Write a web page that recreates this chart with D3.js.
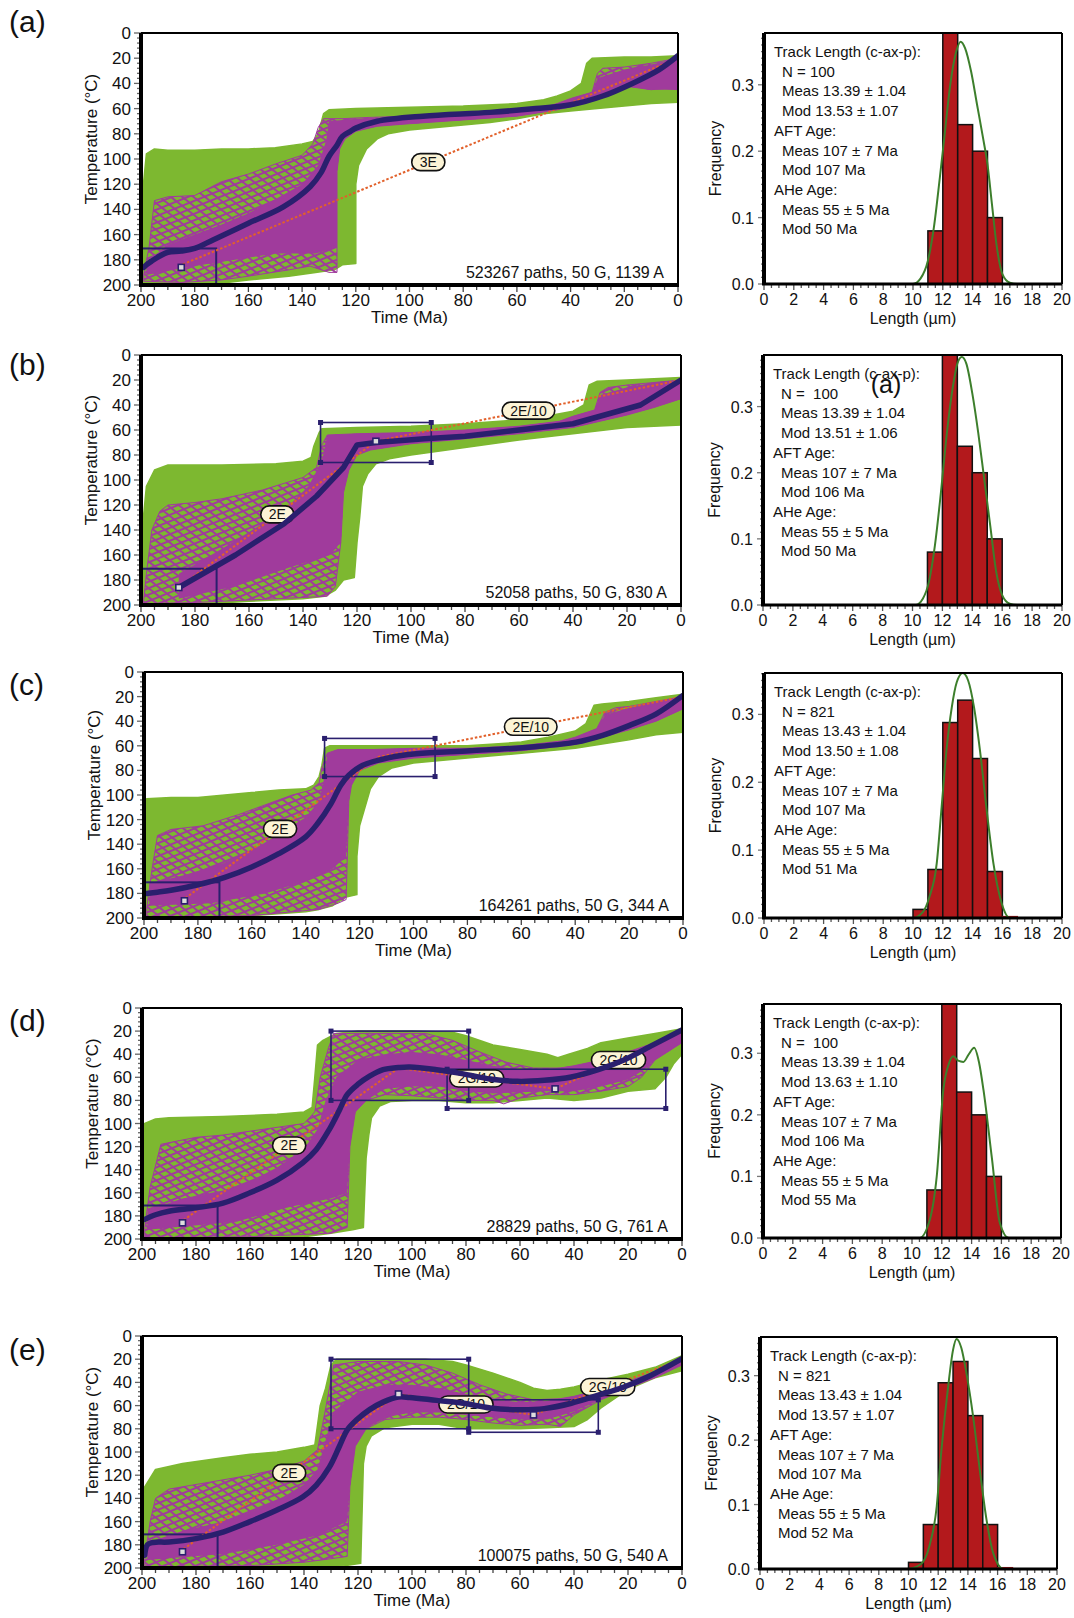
<!DOCTYPE html>
<html>
<head>
<meta charset="utf-8">
<script src="https://cdn.jsdelivr.net/npm/d3@7"></script>
<style>
  html, body { margin: 0; padding: 0; background: #fff; }
  svg { display: block; font-family: "Liberation Sans", Arial, sans-serif; }
</style>
</head>
<body>
<svg id="fig" width="1074" height="1618"></svg>
<script>
// ---------- shared axis values ----------
const panelIds = ["(a)", "(b)", "(c)", "(d)", "(e)"];
const timeTicks = [200, 180, 160, 140, 120, 100, 80, 60, 40, 20, 0];
const tempTicks = [0, 20, 40, 60, 80, 100, 120, 140, 160, 180, 200];
const lengthTicks = [0, 2, 4, 6, 8, 10, 12, 14, 16, 18, 20];
const freqTicks = [0.0, 0.1, 0.2, 0.3];
const lengthBinStarts = [10, 11, 12, 13, 14, 15, 16];

// ---------- time–temperature histories: [time Ma, temperature °C] ----------
// green = acceptable-fit envelope, magenta = good-fit envelope, core = densest good fits
// (a)
const greenA = [[200,200],[200,140],[198,96],[195,92],[190,93],[180,93],[170,92],[160,92],[150,91],[140,88],[136,86],[134,80],[132,64],[130,61],[120,60],[100,59],[80,58],[60,56],[50,53],[45,50],[40,46],[36,40],[34,24],[32,20],[20,19],[10,19],[0,18],
  [0,55],[10,56],[20,58],[30,60],[40,62],[50,64],[60,68],[70,71],[80,73],[90,75],[100,77],[108,80],[112,84],[116,92],[119,105],[120,120],[120,183],[125,184],[128,188],[135,190],[145,193],[160,196],[172,199],[180,200]];
const magentaA = [[199,192],[197,170],[195,133],[190,130],[180,129],[170,118],[160,112],[150,104],[140,97],[136,88],[134,75],[132,68],[125,68],[115,67],[100,66],[80,63],[60,61],[50,59],[45,56],[40,52],[32,47],[30,32],[28,28],[20,27],[10,24],[0,20],
  [0,45],[5,44],[10,45],[20,42],[28,48],[35,56],[45,61],[60,66],[80,69],[100,72],[112,74],[120,78],[124,84],[126,92],[127,110],[127,190],[130,190],[137,185],[145,188],[160,193],[170,196],[185,198],[199,197]];
const coreA = [[198,182],[190,168],[180,160],[170,152],[160,143],[150,132],[140,120],[134,105],[131,85],[130,70],[120,68],[100,66],[80,63],[60,61],[50,59],[45,56],[40,52],[32,47],[30,36],[20,29],[10,25],[0,20],
  [0,45],[10,45],[20,42],[28,48],[35,56],[45,61],[60,66],[80,69],[100,72],[112,74],[120,78],[124,84],[126,92],[127,110],[127,170],[135,175],[150,175],[165,180],[180,185],[198,192]];
const bestFitA = [[199,186],[198,184],[196,181],[193,177],[190,174],[185,173],[180,171],[173,164],[160,151],[147,138],[137,122],[133,111],[130,98],[127,89],[125,82],[122,78],[120,75.5],[112,70],[95,66],[70,63],[53,60],[40,57],[28,50],[17,40],[7,29],[0,18]];
const constraintsA = [[172,200,171,200]];
const dashedA = [[186,185],[0,20]];
const dashedLabelsA = ["3E"];
const markersA = [[185,186]];
const noteA = "523267 paths, 50 G, 1139 A";

// (b)
const greenB = [[200,200],[200,150],[198,105],[195,92],[190,88],[170,88],[150,87],[140,85],[137,82],[136,73],[134,62],[133,59],[120,58],[100,57],[80,55],[60,52],[50,49],[40,45],[36,40],[34,24],[31,21],[20,20],[10,19],[0,18],
  [0,56],[10,57],[20,58],[40,63],[60,68],[80,74],[100,80],[108,83],[113,87],[116,95],[118,105],[119,130],[120,150],[121,178],[125,180],[128,188],[132,193],[140,195],[160,197],[175,199],[185,200]];
const magentaB = [[199,196],[198,175],[196,140],[193,125],[190,120],[180,118],[170,115],[155,108],[140,98],[135,90],[133,72],[131,64],[120,63],[100,62],[80,60],[60,57],[45,53],[40,49],[32,44],[30,30],[27,26],[20,24],[10,22],[0,20],
  [0,35],[10,42],[20,48],[30,53],[40,58],[60,63],[80,67],[100,71],[115,76],[120,80],[123,92],[125,110],[126,150],[128,185],[131,193],[140,194],[160,196],[180,198],[199,199]];
const coreB = [[186,175],[170,155],[155,135],[145,120],[138,105],[133,85],[131,64],[120,63],[100,62],[80,60],[60,57],[45,53],[40,49],[32,44],[30,32],[20,26],[10,22],[0,20],
  [0,35],[10,42],[20,48],[30,53],[40,58],[60,63],[80,67],[100,71],[115,76],[120,80],[123,92],[125,110],[126,150],[130,160],[145,170],[165,185],[186,195]];
const bestFitB = [[186,186],[165,160],[147,135],[135,113],[125,90],[120,72],[113,70],[95,67],[80,65],[60,60],[40,55],[15,40],[0,20]];
const constraintsB = [[172,200,171,200],[92.5,133.5,54,86]];
const dashedB = [[186,186],[113,69],[0,20]];
const dashedLabelsB = ["2E", "2E/10"];
const markersB = [[186,186],[113,69]];
const noteB = "52058 paths, 50 G, 830 A";

// (c)
const greenC = [[200,200],[200,150],[199,103],[190,102],[180,102],[170,100],[160,98],[150,96],[140,95],[137,92],[135,85],[134,76],[133,62],[131,60],[120,60],[100,60],[80,60],[60,57],[50,53],[40,48],[36,42],[33,27],[30,26],[20,24],[10,21],[0,18],
  [0,49],[10,51],[20,55],[40,62],[60,66],[80,70],[100,74],[108,78],[113,85],[116,95],[118,110],[120,125],[121,150],[121,181],[125,183],[130,190],[135,193],[140,195],[160,198],[172,200]];
const magentaC = [[199,192],[197,160],[195,133],[190,128],[178,125],[165,116],[155,108],[145,100],[138,96],[135,90],[134,78],[132,66],[128,63],[115,63],[100,62],[80,62],[60,60],[45,56],[40,53],[32,46],[29,33],[25,29],[20,28],[10,24],[0,20],
  [0,30],[10,40],[20,47],[30,53],[40,59],[60,64],[80,67],[100,70],[113,74],[120,80],[123,92],[124,105],[125,185],[128,188],[135,193],[145,195],[160,198],[180,199],[199,199]];
const coreC = [[198,172],[185,165],[170,155],[160,145],[150,132],[140,118],[135,105],[133,85],[132,66],[128,63],[115,63],[100,62],[80,62],[60,60],[45,56],[40,53],[32,46],[29,35],[20,29],[10,24],[0,20],
  [0,30],[10,40],[20,47],[30,53],[40,59],[60,64],[80,67],[100,70],[113,74],[120,80],[123,92],[124,105],[125,150],[130,160],[140,170],[155,180],[175,188],[198,190]];
const bestFitC = [[199,180],[195,179],[190,177.5],[180,173],[170,167],[160,158.5],[150,147.7],[140,134],[135.5,123],[130.6,107],[127,92],[124,84],[119,76],[109,69.6],[99,66.4],[79,64],[59.5,61.5],[39.7,57],[29.8,51.5],[19.8,43.4],[9.9,34],[0,19]];
const constraintsC = [[172,200,171,200],[92,133,54,85]];
const dashedC = [[186,186],[113,69],[0,20]];
const dashedLabelsC = ["2E", "2E/10"];
const markersC = [[185,186]];
const noteC = "164261 paths, 50 G, 344 A";

// (d)
const greenD = [[200,200],[200,140],[199,100],[195,96],[190,95],[170,94],[150,92],[140,90],[137,86],[136,60],[135,32],[133,28],[128,22],[120,20],[100,20],[85,21],[80,24],[70,32],[60,36],[50,40],[46,43],[42,40],[35,35],[30,30],[20,26],[10,22],[0,18],
  [0,40],[3,48],[6,60],[10,70],[20,72],[30,78],[40,80],[50,78],[60,80],[70,82],[80,82],[90,80],[100,80],[108,81],[112,85],[115,95],[116,110],[117,130],[118,190],[122,192],[130,195],[140,198],[150,199],[160,200]];
const magentaD = [[199,190],[197,155],[193,118],[180,112],[170,110],[155,105],[140,100],[136,90],[134,60],[131,35],[129,22],[110,22],[95,22],[85,28],[75,38],[65,47],[55,52],[45,52],[40,50],[30,45],[20,38],[10,30],[0,20],
  [0,30],[10,45],[15,60],[20,68],[30,72],[40,75],[50,75],[60,78],[66,83],[70,80],[80,80],[90,78],[100,76],[110,75],[117,80],[121,90],[123,120],[124,190],[130,195],[140,196],[160,198],[199,199]];
const coreD = [[198,175],[185,165],[170,158],[160,150],[150,138],[140,122],[135,105],[132,80],[128,60],[120,45],[110,40],[100,38],[90,40],[80,45],[70,50],[60,53],[50,53],[40,50],[30,45],[20,38],[10,30],[0,20],
  [0,30],[10,45],[15,55],[20,62],[30,68],[40,72],[50,72],[60,73],[70,74],[80,72],[90,68],[100,68],[110,70],[117,80],[121,90],[123,120],[124,160],[130,165],[145,172],[165,185],[198,192]];
const bestFitD = [[199,183],[195,179],[190,176],[180,173],[170,169],[160,160],[150,149],[140.5,134],[135.5,122.7],[130.6,105],[127,89],[124,75],[120,66],[115.7,59],[110.7,53.4],[105,51.5],[100.8,51],[90.9,53.4],[81,57],[71,61.5],[61,63.5],[51,62.6],[41,59.7],[31,53.4],[21.5,45],[11.6,33],[0,19]];
const constraintsD = [[172,200,171,200],[79,130,20,80],[6,87,53,87]];
const dashedD = [[186,186],[105,52],[47,70],[0,20]];
const dashedLabelsD = ["2E", "2G/10", "2G/10"];
const markersD = [[185,186],[47,70]];
const noteD = "28829 paths, 50 G, 761 A";

// (e)
const greenE = [[200,200],[200,160],[199,130],[195,115],[185,110],[170,105],[160,102],[150,100],[140,96],[136,94],[134,60],[132,45],[130,25],[128,20],[110,20],[95,20],[85,22],[80,25],[70,32],[60,40],[55,45],[50,47],[45,46],[40,44],[30,38],[20,33],[10,27],[0,17],
  [0,30],[10,36],[20,46],[30,62],[35,72],[40,78],[50,79],[60,80],[70,80],[80,80],[90,76],[100,76],[110,79],[115,86],[117,95],[118,110],[119,196],[125,198],[135,199],[160,200]];
const magentaE = [[199,192],[197,160],[195,140],[190,132],[175,126],[160,120],[150,115],[140,108],[135,98],[133,75],[131,50],[129,25],[120,22],[105,22],[95,25],[85,32],[75,42],[65,50],[55,55],[45,54],[40,52],[30,46],[20,39],[10,31],[0,19],
  [0,25],[10,36],[20,45],[30,55],[40,68],[45,78],[50,76],[60,77],[70,75],[80,72],[90,70],[100,70],[110,72],[117,80],[121,95],[123,130],[124,190],[130,192],[140,195],[160,198],[199,199]];
const coreE = [[198,178],[185,168],[170,160],[160,152],[150,142],[140,128],[135,115],[132,90],[129,65],[120,48],[110,42],[100,42],[90,45],[80,50],[70,55],[60,57],[50,56],[40,52],[30,46],[20,39],[10,31],[0,19],
  [0,25],[10,36],[20,45],[30,55],[40,65],[50,72],[60,72],[70,70],[80,68],[90,66],[100,66],[110,70],[117,80],[121,95],[123,130],[124,160],[135,172],[150,180],[170,188],[198,193]];
const bestFitE = [[199,189],[198,180],[196,178],[190,177.6],[180,174.7],[170,169],[160,160],[150,150],[140.5,138.8],[135.5,128.7],[130.6,113],[127,95.7],[124,81],[120.7,72.7],[115.7,63.5],[110.7,57],[105,52.6],[100.8,53],[90.9,55.5],[81,58],[71,62],[61,63.5],[51,62.6],[41,58],[31,51],[21.5,44],[11.6,34],[0,19.5]];
const constraintsE = [[172,200,171,200],[79,130,20,80],[31,79,55,83]];
const dashedE = [[186,186],[105,50],[55,68],[0,20]];
const dashedLabelsE = ["2E", "2G/10", "2G/10"];
const markersE = [[185,186],[105,50],[55,68]];
const noteE = "100075 paths, 50 G, 540 A";

// ---------- track-length histograms ----------
// bar frequencies for bins 10–11 ... 16–17 µm
const freqA = [0.0, 0.08, 0.38, 0.24, 0.20, 0.10, 0.0];
const freqB = [0.0, 0.08, 0.38, 0.24, 0.20, 0.10, 0.0];
const freqC = [0.0127, 0.0715, 0.288, 0.321, 0.235, 0.0685, 0.002];
const freqD = [0.0, 0.078, 0.39, 0.237, 0.20, 0.10, 0.0];
const freqE = [0.0103, 0.069, 0.289, 0.322, 0.238, 0.069, 0.002];

// predicted length distributions: [length µm, frequency]
const modelA = [[0,0],[10,0],[10.5,0.008],[11,0.035],[11.4,0.085],[11.8,0.16],[12.1,0.22],[12.5,0.30],[12.9,0.35],[13.2,0.365],[13.5,0.355],[13.9,0.32],[14.3,0.27],[14.7,0.22],[15.0,0.18],[15.3,0.12],[15.6,0.06],[16.0,0.015],[16.5,0.002],[17,0],[20,0]];
const modelB = [[0,0],[10.2,0],[10.7,0.01],[11.1,0.035],[11.5,0.09],[11.9,0.17],[12.3,0.26],[12.7,0.33],[13.0,0.365],[13.3,0.375],[13.6,0.365],[14.0,0.32],[14.4,0.26],[14.8,0.19],[15.2,0.12],[15.6,0.05],[16.0,0.015],[16.5,0.002],[17,0],[20,0]];
const modelC = [[0,0],[10,0],[10.67,0.009],[11.1,0.031],[11.59,0.08],[11.9,0.158],[12.26,0.25],[12.6,0.31],[12.93,0.347],[13.34,0.361],[13.7,0.35],[14.1,0.31],[14.5,0.246],[14.95,0.158],[15.4,0.08],[15.96,0.021],[16.5,0],[20,0]];
const modelD = [[0,0],[10.5,0],[11.2,0.03],[11.66,0.10],[12.1,0.24],[12.5,0.285],[12.78,0.295],[13.1,0.288],[13.45,0.286],[13.8,0.298],[14.17,0.309],[14.5,0.285],[14.8,0.24],[15.36,0.13],[15.9,0.024],[16.5,0],[20,0]];
const modelE = [[0,0],[9.87,0],[10.8,0.007],[11.4,0.035],[11.9,0.097],[12.2,0.18],[12.67,0.283],[13.0,0.34],[13.23,0.357],[13.56,0.343],[13.9,0.304],[14.35,0.237],[14.8,0.154],[15.25,0.077],[15.7,0.025],[16.4,0],[20,0]];

const statsA = ["Track Length (c-ax-p):", "N = 100", "Meas 13.39 \u00b1 1.04", "Mod 13.53 \u00b1 1.07", "AFT Age:", "Meas 107 \u00b1 7 Ma", "Mod 107 Ma", "AHe Age:", "Meas 55 \u00b1 5 Ma", "Mod 50 Ma"];
const statsB = ["Track Length (c-ax-p):", "N =  100", "Meas 13.39 \u00b1 1.04", "Mod 13.51 \u00b1 1.06", "AFT Age:", "Meas 107 \u00b1 7 Ma", "Mod 106 Ma", "AHe Age:", "Meas 55 \u00b1 5 Ma", "Mod 50 Ma"];
const statsC = ["Track Length (c-ax-p):", "N = 821", "Meas 13.43 \u00b1 1.04", "Mod 13.50 \u00b1 1.08", "AFT Age:", "Meas 107 \u00b1 7 Ma", "Mod 107 Ma", "AHe Age:", "Meas 55 \u00b1 5 Ma", "Mod 51 Ma"];
const statsD = ["Track Length (c-ax-p):", "N =  100", "Meas 13.39 \u00b1 1.04", "Mod 13.63 \u00b1 1.10", "AFT Age:", "Meas 107 \u00b1 7 Ma", "Mod 106 Ma", "AHe Age:", "Meas 55 \u00b1 5 Ma", "Mod 55 Ma"];
const statsE = ["Track Length (c-ax-p):", "N = 821", "Meas 13.43 \u00b1 1.04", "Mod 13.57 \u00b1 1.07", "AFT Age:", "Meas 107 \u00b1 7 Ma", "Mod 107 Ma", "AHe Age:", "Meas 55 \u00b1 5 Ma", "Mod 52 Ma"];
const freqMax = [0.378, 0.378, 0.361, 0.38, 0.36];

// ---------- assemble panels ----------
const ttPanels = [
  { green: greenA, magenta: magentaA, core: coreA, best: bestFitA, boxes: constraintsA, dashed: dashedA, labels: dashedLabelsA, markers: markersA, note: noteA },
  { green: greenB, magenta: magentaB, core: coreB, best: bestFitB, boxes: constraintsB, dashed: dashedB, labels: dashedLabelsB, markers: markersB, note: noteB },
  { green: greenC, magenta: magentaC, core: coreC, best: bestFitC, boxes: constraintsC, dashed: dashedC, labels: dashedLabelsC, markers: markersC, note: noteC },
  { green: greenD, magenta: magentaD, core: coreD, best: bestFitD, boxes: constraintsD, dashed: dashedD, labels: dashedLabelsD, markers: markersD, note: noteD },
  { green: greenE, magenta: magentaE, core: coreE, best: bestFitE, boxes: constraintsE, dashed: dashedE, labels: dashedLabelsE, markers: markersE, note: noteE }
];
const histPanels = [
  { freq: freqA, model: modelA, stats: statsA, ymax: freqMax[0] },
  { freq: freqB, model: modelB, stats: statsB, ymax: freqMax[1] },
  { freq: freqC, model: modelC, stats: statsC, ymax: freqMax[2] },
  { freq: freqD, model: modelD, stats: statsD, ymax: freqMax[3] },
  { freq: freqE, model: modelE, stats: statsE, ymax: freqMax[4] }
];

// ---------- layout (pixels) ----------
const layout = [
  { tt: { x0: 141, x1: 678, y0: 33, y1: 285 },   hist: { x0: 764, x1: 1062, y0: 33, y1: 284 },   labelY: 32,   linear: false },
  { tt: { x0: 141, x1: 681, y0: 355, y1: 605 },  hist: { x0: 763, x1: 1062, y0: 355, y1: 605 },  labelY: 375,  linear: true },
  { tt: { x0: 144, x1: 683, y0: 672, y1: 918 },  hist: { x0: 764, x1: 1062, y0: 673, y1: 918 },  labelY: 695,  linear: false },
  { tt: { x0: 142, x1: 682, y0: 1008, y1: 1239 }, hist: { x0: 763, x1: 1061, y0: 1004, y1: 1238 }, labelY: 1031, linear: false },
  { tt: { x0: 142, x1: 682, y0: 1336, y1: 1568 }, hist: { x0: 760, x1: 1057, y0: 1337, y1: 1569 }, labelY: 1360, linear: false }
];

const GREEN = "#7db830";
const MAGENTA = "#a03b9c";
const NAVY = "#2a1f6e";
const ORANGE = "#e2602a";
const BAR = "#b3191c";
const CURVE = "#3d7f2c";

const svg = d3.select("#fig");
const defs = svg.append("defs");

// two families of slanted strokes standing in for the scattered individual good-fit paths
[["goodPathsA", -22, 6], ["goodPathsB", 38, 7]].forEach(([id, angle, step]) => {
  const pat = defs.append("pattern").attr("id", id)
    .attr("patternUnits", "userSpaceOnUse").attr("width", 40).attr("height", step)
    .attr("patternTransform", `rotate(${angle})`);
  pat.append("path").attr("d", `M0,1 H40`)
    .attr("stroke", MAGENTA).attr("stroke-width", 1.8).attr("fill", "none");
});

function drawTT(i) {
  const p = ttPanels[i], b = layout[i].tt;
  const x = d3.scaleLinear().domain([200, 0]).range([b.x0, b.x1]);
  const y = d3.scaleLinear().domain([0, 200]).range([b.y0, b.y1]);
  const g = svg.append("g");

  const clipId = "ttclip" + i;
  defs.append("clipPath").attr("id", clipId).append("rect")
    .attr("x", b.x0).attr("y", b.y0).attr("width", b.x1 - b.x0).attr("height", b.y1 - b.y0);
  const plot = g.append("g").attr("clip-path", `url(#${clipId})`);

  const poly = d3.line().x(d => x(d[0])).y(d => y(d[1])).curve(d3.curveLinearClosed);
  const open = d3.line().x(d => x(d[0])).y(d => y(d[1]));

  // acceptable and good path envelopes
  plot.append("path").attr("d", poly(p.green))
    .attr("fill", GREEN).attr("stroke", GREEN).attr("stroke-width", 1.5).attr("stroke-linejoin", "round");
  plot.append("path").attr("d", poly(p.magenta)).attr("fill", "url(#goodPathsA)").attr("stroke", "none");
  plot.append("path").attr("d", poly(p.magenta))
    .attr("fill", "url(#goodPathsB)").attr("stroke", MAGENTA).attr("stroke-width", 1).attr("stroke-linejoin", "round");
  plot.append("path").attr("d", poly(p.core))
    .attr("fill", MAGENTA).attr("stroke", "none");

  // constraint boxes
  p.boxes.forEach((c, k) => {
    plot.append("rect")
      .attr("x", x(c[1])).attr("y", y(c[2]))
      .attr("width", x(c[0]) - x(c[1])).attr("height", y(c[3]) - y(c[2]))
      .attr("fill", "none").attr("stroke", NAVY).attr("stroke-width", k === 0 ? 2 : 1.6);
    if (k > 0) {
      [[c[0], c[2]], [c[1], c[2]], [c[0], c[3]], [c[1], c[3]]].forEach(q => {
        plot.append("rect").attr("x", x(q[0]) - 2.5).attr("y", y(q[1]) - 2.5)
          .attr("width", 5).attr("height", 5).attr("fill", NAVY);
      });
    }
  });

  // dotted segments between model nodes
  plot.append("path").attr("d", open(p.dashed))
    .attr("fill", "none").attr("stroke", ORANGE).attr("stroke-width", 2)
    .attr("stroke-dasharray", "2.5,2");

  // segment labels
  p.labels.forEach((lab, k) => {
    const a = p.dashed[k], c = p.dashed[k + 1];
    const mx = x((a[0] + c[0]) / 2), my = y((a[1] + c[1]) / 2);
    const lg = plot.append("g");
    const t = lg.append("text").attr("x", mx).attr("y", my + 5)
      .attr("text-anchor", "middle").attr("font-size", 14).attr("fill", "#111").text(lab);
    const w = t.node().getComputedTextLength() + 16, h = 17;
    lg.insert("rect", "text").attr("x", mx - w / 2).attr("y", my - h / 2)
      .attr("width", w).attr("height", h).attr("rx", h / 2)
      .attr("fill", "#fcf4d6").attr("stroke", "#111").attr("stroke-width", 1.6);
  });

  // best-fit path
  plot.append("path")
    .attr("d", open.curve(layout[i].linear ? d3.curveLinear : d3.curveCatmullRom.alpha(0.5))(p.best))
    .attr("fill", "none").attr("stroke", NAVY).attr("stroke-width", 5.5)
    .attr("stroke-linejoin", "round").attr("stroke-linecap", "round");

  // node markers
  p.markers.forEach(m => {
    plot.append("rect").attr("x", x(m[0]) - 3).attr("y", y(m[1]) - 3)
      .attr("width", 6).attr("height", 6).attr("fill", "#ddd").attr("stroke", NAVY).attr("stroke-width", 1.6);
  });

  // path-count note
  g.append("text").attr("x", b.x1 - 14).attr("y", b.y1 - 7)
    .attr("text-anchor", "end").attr("font-size", 16).attr("fill", "#111")
    .text(p.note);

  // frame
  g.append("line").attr("x1", b.x0).attr("x2", b.x1).attr("y1", b.y0).attr("y2", b.y0).attr("stroke", "#000").attr("stroke-width", 2);
  g.append("line").attr("x1", b.x1).attr("x2", b.x1).attr("y1", b.y0).attr("y2", b.y1).attr("stroke", "#000").attr("stroke-width", 2);

  // x axis (time)
  const minorT = d3.range(0, 201, 5);
  g.append("g").selectAll("line").data(minorT).join("line")
    .attr("x1", d => x(d)).attr("x2", d => x(d))
    .attr("y1", b.y1).attr("y2", d => b.y1 + (d % 20 === 0 ? 7 : 5))
    .attr("stroke", "#444").attr("stroke-width", 1.3);
  g.append("line").attr("x1", b.x0 - 2).attr("x2", b.x1 + 1).attr("y1", b.y1).attr("y2", b.y1)
    .attr("stroke", "#000").attr("stroke-width", 4);
  g.append("g").selectAll("text").data(timeTicks).join("text")
    .attr("x", d => x(d)).attr("y", b.y1 + 21).attr("text-anchor", "middle")
    .attr("font-size", 17).attr("fill", "#111").text(d => d);
  g.append("text").attr("x", (b.x0 + b.x1) / 2).attr("y", b.y1 + 38)
    .attr("text-anchor", "middle").attr("font-size", 17).attr("fill", "#111").text("Time (Ma)");

  // y axis (temperature)
  const minorY = d3.range(0, 201, 4);
  g.append("g").selectAll("line").data(minorY).join("line")
    .attr("y1", d => y(d)).attr("y2", d => y(d))
    .attr("x1", b.x0).attr("x2", d => b.x0 - (d % 20 === 0 ? 7 : 4))
    .attr("stroke", "#666").attr("stroke-width", 1.3);
  g.append("line").attr("x1", b.x0).attr("x2", b.x0).attr("y1", b.y0).attr("y2", b.y1 + 2)
    .attr("stroke", "#000").attr("stroke-width", 4);
  g.append("g").selectAll("text").data(tempTicks).join("text")
    .attr("x", b.x0 - 10).attr("y", d => y(d) + 6).attr("text-anchor", "end")
    .attr("font-size", 17).attr("fill", "#111").text(d => d);
  const ty = (b.y0 + b.y1) / 2 - 20;
  g.append("text").attr("transform", `translate(${b.x0 - 44},${ty}) rotate(-90)`)
    .attr("text-anchor", "middle").attr("font-size", 17).attr("fill", "#111").text("Temperature (\u00b0C)");
}

function drawHist(i) {
  const p = histPanels[i], b = layout[i].hist;
  const x = d3.scaleLinear().domain([0, 20]).range([b.x0, b.x1]);
  const y = d3.scaleLinear().domain([0, p.ymax]).range([b.y1, b.y0]);
  const g = svg.append("g");

  const clipId = "hclip" + i;
  defs.append("clipPath").attr("id", clipId).append("rect")
    .attr("x", b.x0).attr("y", b.y0).attr("width", b.x1 - b.x0).attr("height", b.y1 - b.y0);
  const plot = g.append("g").attr("clip-path", `url(#${clipId})`);

  // measured length histogram
  plot.selectAll("rect.bar").data(lengthBinStarts.map((s, k) => [s, p.freq[k]])).join("rect")
    .attr("class", "bar")
    .attr("x", d => x(d[0])).attr("width", d => x(d[0] + 1) - x(d[0]))
    .attr("y", d => y(d[1])).attr("height", d => y(0) - y(d[1]))
    .attr("fill", BAR).attr("stroke", d => d[1] > 0.004 ? "#111" : BAR).attr("stroke-width", 1.5);

  // predicted distribution
  plot.append("path")
    .attr("d", d3.line().x(d => x(d[0])).y(d => y(d[1])).curve(d3.curveMonotoneX)(p.model))
    .attr("fill", "none").attr("stroke", CURVE).attr("stroke-width", 2);

  // frame
  g.append("line").attr("x1", b.x0).attr("x2", b.x1).attr("y1", b.y0).attr("y2", b.y0).attr("stroke", "#000").attr("stroke-width", 2);
  g.append("line").attr("x1", b.x1).attr("x2", b.x1).attr("y1", b.y0).attr("y2", b.y1).attr("stroke", "#000").attr("stroke-width", 2);

  // x axis
  const minorL = d3.range(0, 20.01, 0.5);
  g.append("g").selectAll("line").data(minorL).join("line")
    .attr("x1", d => x(d)).attr("x2", d => x(d))
    .attr("y1", b.y1).attr("y2", d => b.y1 + (d % 2 === 0 ? 6 : 4))
    .attr("stroke", "#555").attr("stroke-width", 1.3);
  g.append("line").attr("x1", b.x0 - 2).attr("x2", b.x1).attr("y1", b.y1).attr("y2", b.y1)
    .attr("stroke", "#000").attr("stroke-width", 3);
  g.append("g").selectAll("text").data(lengthTicks).join("text")
    .attr("x", d => x(d)).attr("y", b.y1 + 21).attr("text-anchor", "middle")
    .attr("font-size", 16).attr("fill", "#111").text(d => d);
  g.append("text").attr("x", (b.x0 + b.x1) / 2).attr("y", b.y1 + 40)
    .attr("text-anchor", "middle").attr("font-size", 16).attr("fill", "#111").text("Length (\u00b5m)");

  // y axis
  const minorF = d3.range(0, p.ymax, 0.01);
  g.append("g").selectAll("line").data(minorF).join("line")
    .attr("y1", d => y(d)).attr("y2", d => y(d))
    .attr("x1", b.x0).attr("x2", d => b.x0 - (Math.abs(d * 10 - Math.round(d * 10)) < 1e-6 ? 6 : 3))
    .attr("stroke", "#777").attr("stroke-width", 1.3);
  g.append("line").attr("x1", b.x0).attr("x2", b.x0).attr("y1", b.y0).attr("y2", b.y1 + 1)
    .attr("stroke", "#000").attr("stroke-width", 4);
  g.append("g").selectAll("text").data(freqTicks).join("text")
    .attr("x", b.x0 - 10).attr("y", d => y(d) + 6).attr("text-anchor", "end")
    .attr("font-size", 16).attr("fill", "#111").text(d => d.toFixed(1));
  g.append("text").attr("transform", `translate(${b.x0 - 43},${(b.y0 + b.y1) / 2}) rotate(-90)`)
    .attr("text-anchor", "middle").attr("font-size", 16).attr("fill", "#111").text("Frequency");

  // statistics block
  const headers = new Set(["Track Length (c-ax-p):", "AFT Age:", "AHe Age:"]);
  g.append("g").selectAll("text").data(p.stats).join("text")
    .attr("x", d => b.x0 + (headers.has(d) ? 10 : 18))
    .attr("y", (d, k) => b.y0 + 24 + k * 19.7)
    .attr("font-size", 15).attr("fill", "#111")
    .attr("xml:space", "preserve").style("white-space", "pre")
    .text(d => d);
}

ttPanels.forEach((_, i) => { drawTT(i); drawHist(i); });

// panel letters
layout.forEach((l, i) => {
  svg.append("text").attr("x", 9).attr("y", l.labelY).attr("font-size", 30)
    .attr("fill", "#111").text(panelIds[i]);
});

// stray lettering inside histogram (b)
svg.append("text").attr("x", 886).attr("y", 393).attr("text-anchor", "middle")
  .attr("font-size", 25).attr("fill", "#111").text("(a)");
</script>
</body>
</html>
